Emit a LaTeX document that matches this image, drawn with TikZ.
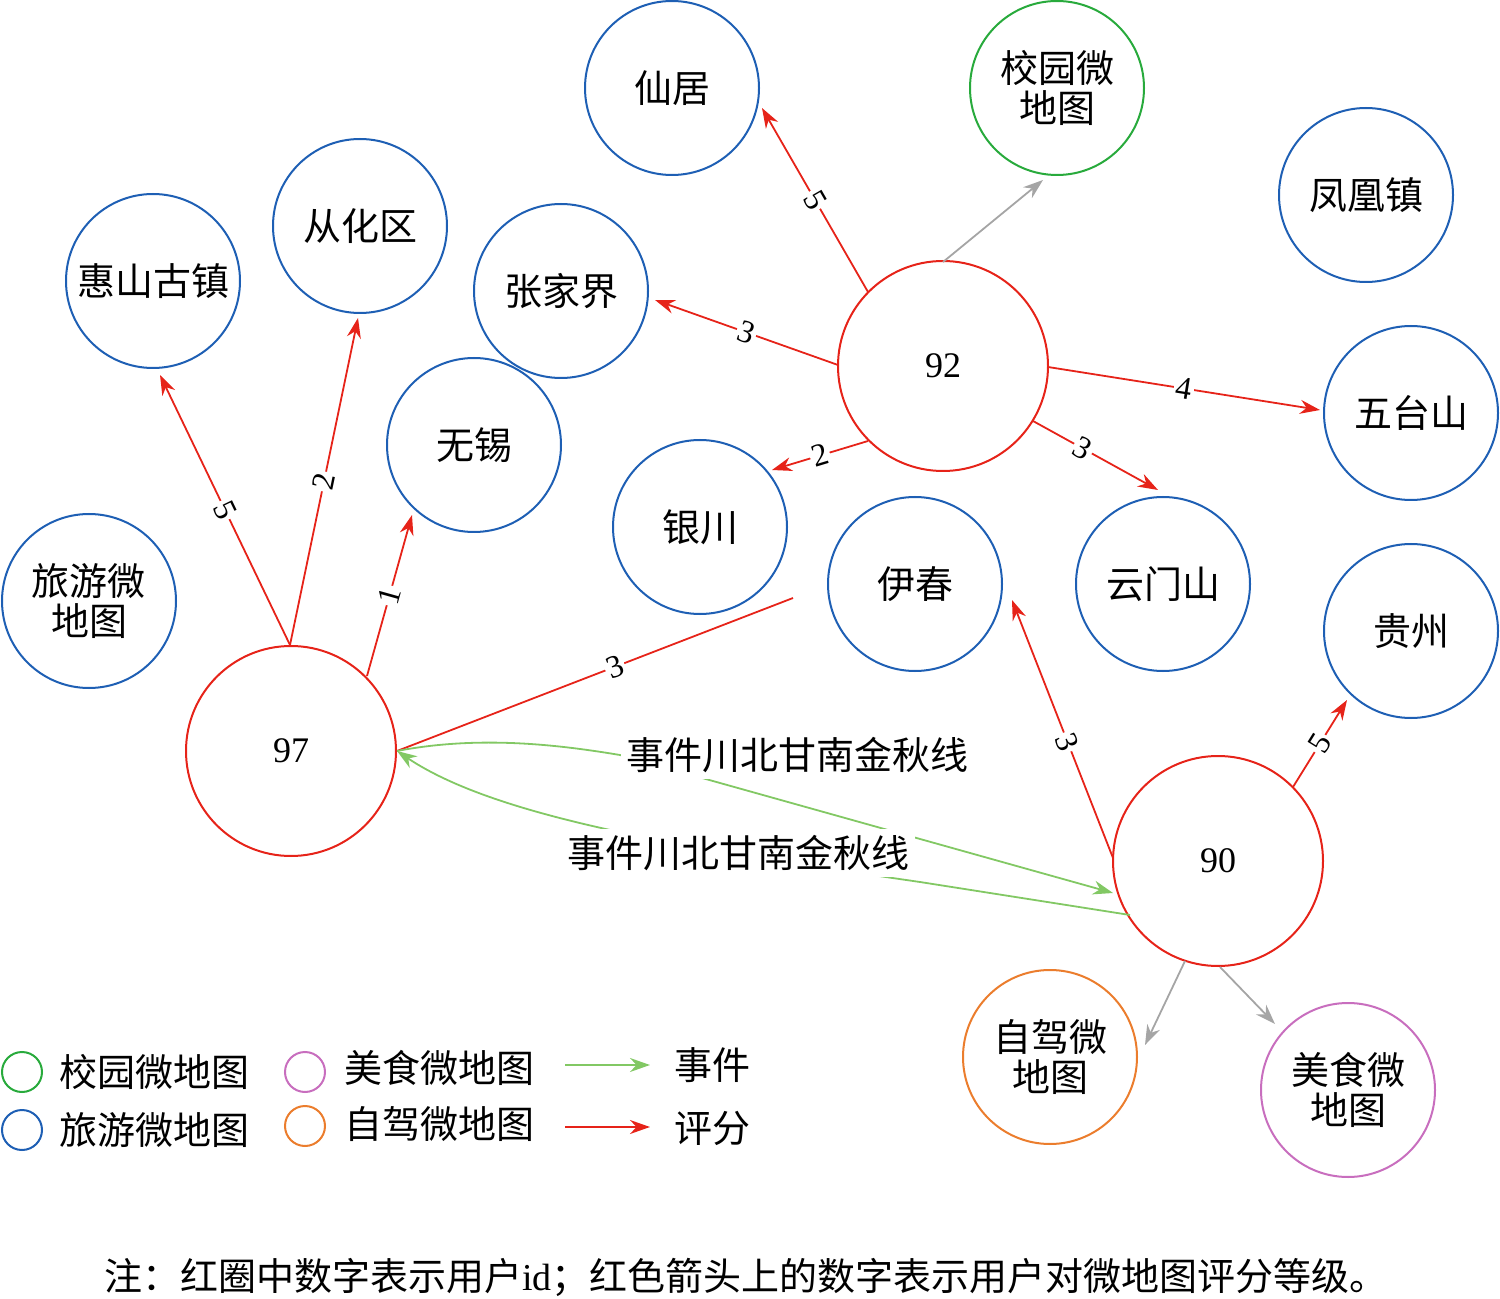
\documentclass[tikz,border=0pt]{standalone}
\usepackage{fontspec}
\setmainfont{Liberation Serif}
\newfontfamily\cjk{Noto Sans CJK SC}
\usetikzlibrary{arrows.meta}
\definecolor{rd}{RGB}{230,35,25}
\definecolor{bl}{RGB}{30,95,180}
\definecolor{gr}{RGB}{40,170,60}
\definecolor{gn}{RGB}{130,200,100}
\definecolor{og}{RGB}{235,125,45}
\definecolor{pu}{RGB}{200,110,190}
\definecolor{gy}{RGB}{165,165,165}
\tikzset{
 mapc/.style={circle,draw=bl,line width=1pt,minimum size=87pt,inner sep=0pt,align=center,font=\cjk\fontsize{19}{20}\selectfont},
 userc/.style={circle,draw=rd,line width=1pt,minimum size=105pt,inner sep=0pt,font=\fontsize{18}{19}\selectfont},
 rate/.style={draw=rd,line width=0.9pt,-{Stealth[length=10pt,width=7pt]}},
 evt/.style={draw=gn,line width=0.9pt,-{Stealth[length=10pt,width=7pt]}},
 gya/.style={draw=gy,line width=0.9pt,-{Stealth[length=10pt,width=7pt]}},
 lab/.style={fill=white,inner sep=1pt,font=\fontsize{16}{16}\selectfont,sloped},
 leg/.style={circle,draw,line width=1pt,minimum size=20pt,inner sep=0pt},
 lt/.style={anchor=west,font=\cjk\fontsize{19}{20}\selectfont}
}
\begin{document}
\begin{tikzpicture}[x=0.5pt,y=-0.5pt]
\useasboundingbox (0,0) rectangle (1500,1299);
\node[mapc] (xj) at (672,88) {仙居};
\node[mapc,draw=gr] (xy) at (1057,88) {校园微\\地图};
\node[mapc] (fh) at (1366,195) {凤凰镇};
\node[mapc] (ch) at (360,226) {从化区};
\node[mapc] (hs) at (153,281) {惠山古镇};
\node[mapc] (zj) at (561,291) {张家界};
\node[mapc] (wt) at (1411,413) {五台山};
\node[mapc] (wx) at (474,445) {无锡};
\node[mapc] (yc) at (700,527) {银川};
\node[mapc] (yi) at (915,584) {伊春};
\node[mapc] (ym) at (1163,584) {云门山};
\node[mapc] (ly) at (89,601) {旅游微\\地图};
\node[mapc] (gz) at (1411,631) {贵州};
\node[mapc,draw=og] (zd) at (1050,1057) {自驾微\\地图};
\node[mapc,draw=pu] (ms) at (1348,1090) {美食微\\地图};
\node[userc] (u92) at (943,366) {92};
\node[userc] (u97) at (291,751) {97};
\node[userc] (u90) at (1218,861) {90};
% endpoints
\coordinate (e1) at (762,108); \coordinate (s1) at (868,292);
\coordinate (e2) at (655,300); \coordinate (s2) at (838,365);
\coordinate (e3) at (1320,410); \coordinate (s3) at (1048,367);
\coordinate (e4) at (772,470); \coordinate (s4) at (868,441);
\coordinate (e5) at (1158,490); \coordinate (s5) at (1033,421);
\coordinate (e6) at (1043,180); \coordinate (s6) at (943,262);
\coordinate (e7) at (160,375); \coordinate (s7) at (290,645);
\coordinate (e8) at (358,318);
\coordinate (e9) at (412,515); \coordinate (s9) at (367,676);
\coordinate (e10) at (793,598);
\coordinate (e11) at (1012,600); \coordinate (s11) at (1113,858);
\coordinate (e12) at (1347,700); \coordinate (s12) at (1293,787);
\coordinate (e13) at (1145,1045); \coordinate (s13) at (1185,961);
\coordinate (e14) at (1275,1024); \coordinate (s14) at (1220,967);
\draw[rate] (s1) -- node[lab]{5} (e1);
\draw[rate] (s2) -- node[lab]{3} (e2);
\draw[rate] (s3) -- node[lab]{4} (e3);
\draw[rate] (s4) -- node[lab]{2} (e4);
\draw[rate] (s5) -- node[lab,pos=0.4]{3} (e5);
\draw[gya] (s6) -- (e6);
\draw[rate] (s7) -- node[lab]{5} (e7);
\draw[rate] (s7) -- node[lab]{2} (e8);
\draw[rate] (s9) -- node[lab]{1} (e9);
\draw[rate,-] (u97.east) -- node[lab,pos=0.55]{3} (e10);
\draw[rate] (s11) -- node[lab,pos=0.45]{3} (e11);
\draw[rate] (s12) -- node[lab]{5} (e12);
\draw[gya] (s13) -- (e13);
\draw[gya] (s14) -- (e14);
% events
\draw[evt] (u97.east) .. controls (480,735) and (560,745) .. (620,755) -- node[pos=0.0,fill=white,font=\cjk\fontsize{19}{20}\selectfont,anchor=west,inner sep=3pt] (l1) {事件川北甘南金秋线} (1113,893);
\draw[evt] (1130,915) -- (920,882) .. controls (700,850) and (500,820) .. (u97.east);
\node[fill=white,font=\cjk\fontsize{19}{20}\selectfont,inner sep=3pt] (l2) at (738,853) {事件川北甘南金秋线};
% legend
\node[leg,draw=gr] (c1) at (22,1072) {};
\node[lt] at (52,1072) {校园微地图};
\node[leg,draw=bl] (c2) at (22,1130) {};
\node[lt] at (52,1130) {旅游微地图};
\node[leg,draw=pu] (c3) at (305,1072) {};
\node[lt] at (337,1068) {美食微地图};
\node[leg,draw=og] (c4) at (305,1126) {};
\node[lt] at (337,1124) {自驾微地图};
\coordinate (a1) at (565,1065); \coordinate (a2) at (650,1065);
\coordinate (b1) at (565,1127); \coordinate (b2) at (650,1127);
\draw[evt] (a1) -- (a2);
\draw[rate] (b1) -- (b2);
\node[lt] at (667,1065) {事件};
\node[lt] at (667,1128) {评分};
\node[font=\cjk\fontsize{19}{20}\selectfont] at (746,1277) {注：红圈中数字表示用户{\rmfamily id}；红色箭头上的数字表示用户对微地图评分等级。};
\end{tikzpicture}
\end{document}
